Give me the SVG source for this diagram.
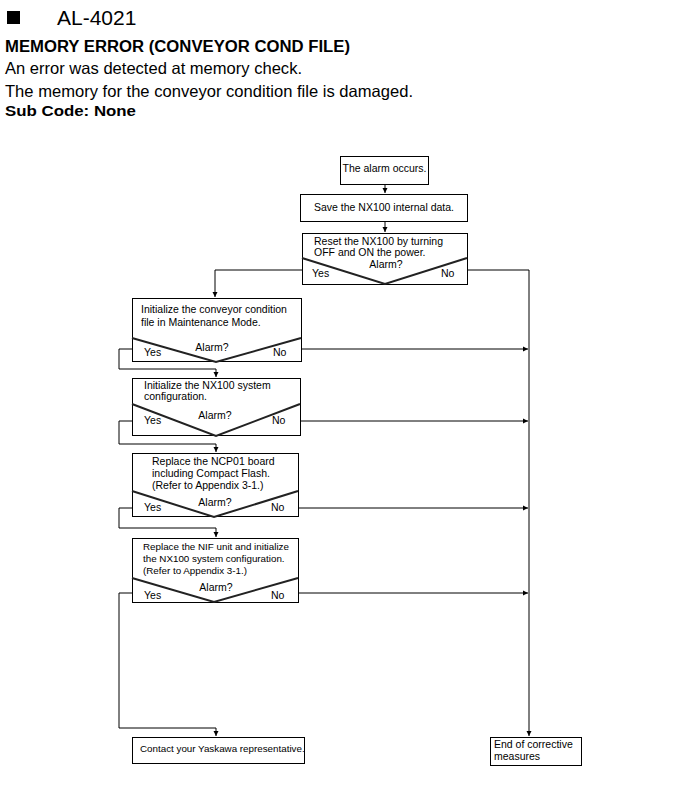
<svg xmlns="http://www.w3.org/2000/svg" width="679" height="796" viewBox="0 0 679 796">
<defs>
<style>
.t{font-family:"Liberation Sans",Arial,sans-serif;fill:#000}
.f{font-size:10.5px}
.box{fill:#fff;stroke:#000;stroke-width:1}
.v{fill:none;stroke:#222;stroke-width:2}
.c{fill:none;stroke:#000;stroke-width:1}
</style>
<marker id="a" markerWidth="6" markerHeight="6" refX="5" refY="3" orient="auto" markerUnits="userSpaceOnUse">
<path d="M0,0.5 L5,3 L0,5.5 Z" fill="#000"/>
</marker>
</defs>
<rect width="679" height="796" fill="#fff"/>
<g id="header">
<rect x="7" y="11" width="13" height="13" fill="#000"/>
<text class="t" x="57" y="25" font-size="21">AL-4021</text>
<text class="t" x="5" y="52" font-size="16" font-weight="bold" textLength="345" lengthAdjust="spacingAndGlyphs">MEMORY ERROR (CONVEYOR COND FILE)</text>
<text class="t" x="5" y="74" font-size="16.5" textLength="297" lengthAdjust="spacingAndGlyphs">An error was detected at memory check.</text>
<text class="t" x="5" y="97" font-size="16.5" textLength="408" lengthAdjust="spacingAndGlyphs">The memory for the conveyor condition file is damaged.</text>
<text class="t" x="5" y="116" font-size="14.5" font-weight="bold" textLength="131" lengthAdjust="spacingAndGlyphs">Sub Code: None</text>
</g>
<g id="connectors">
<path class="c" d="M385,184 V193" marker-end="url(#a)"/>
<path class="c" d="M385,221 V232" marker-end="url(#a)"/>
<path class="c" d="M302,270 H215 V297" marker-end="url(#a)"/>
<path class="c" d="M467,270 H529 V736" marker-end="url(#a)"/>
<path class="c" d="M132,349 H119 V369 H216 V377" marker-end="url(#a)"/>
<path class="c" d="M301,349 H528" marker-end="url(#a)"/>
<path class="c" d="M132,421 H119 V444 H216 V452" marker-end="url(#a)"/>
<path class="c" d="M300,421 H528" marker-end="url(#a)"/>
<path class="c" d="M132,508 H119 V528 H216 V537" marker-end="url(#a)"/>
<path class="c" d="M298,508 H528" marker-end="url(#a)"/>
<path class="c" d="M132,593 H119 V728 H216 V736" marker-end="url(#a)"/>
<path class="c" d="M298,593 H528" marker-end="url(#a)"/>
</g>
<g id="n1">
<rect class="box" x="340.5" y="156.5" width="88" height="28"/>
<text class="t f" x="384.5" y="172" text-anchor="middle">The alarm occurs.</text>
</g>
<g id="n2">
<rect class="box" x="300.5" y="194.5" width="167" height="27"/>
<text class="t f" x="384" y="211" text-anchor="middle">Save the NX100 internal data.</text>
</g>
<g id="n3">
<rect class="box" x="302.5" y="233.5" width="165" height="51"/>
<path class="v" d="M302,258 L385,284 L467,258"/>
<text class="t f" x="314" y="245">Reset the NX100 by turning</text>
<text class="t f" x="314" y="256">OFF and ON the power.</text>
<text class="t f" x="386" y="268" text-anchor="middle">Alarm?</text>
<text class="t f" x="312" y="277">Yes</text>
<text class="t f" x="441" y="277">No</text>
</g>
<g id="n4">
<rect class="box" x="132.5" y="298.5" width="169" height="63"/>
<path class="v" d="M132,338 L216,362 L301,338"/>
<text class="t f" x="141" y="313">Initialize the conveyor condition</text>
<text class="t f" x="141" y="326">file in Maintenance Mode.</text>
<text class="t f" x="212" y="351" text-anchor="middle">Alarm?</text>
<text class="t f" x="144" y="356">Yes</text>
<text class="t f" x="273" y="356">No</text>
</g>
<g id="n5">
<rect class="box" x="132.5" y="378.5" width="168" height="57"/>
<path class="v" d="M132,404 L216,436 L300,404"/>
<text class="t f" x="144" y="389">Initialize the NX100 system</text>
<text class="t f" x="144" y="400">configuration.</text>
<text class="t f" x="215" y="419" text-anchor="middle">Alarm?</text>
<text class="t f" x="144" y="424">Yes</text>
<text class="t f" x="272" y="424">No</text>
</g>
<g id="n6">
<rect class="box" x="132.5" y="453.5" width="166" height="63"/>
<path class="v" d="M132,491 L214,517 L298,491"/>
<text class="t f" x="152" y="465">Replace the NCP01 board</text>
<text class="t f" x="152" y="477">including Compact Flash.</text>
<text class="t f" x="152" y="489">(Refer to Appendix 3-1.)</text>
<text class="t f" x="215" y="506" text-anchor="middle">Alarm?</text>
<text class="t f" x="144" y="511">Yes</text>
<text class="t f" x="271" y="511">No</text>
</g>
<g id="n7">
<rect class="box" x="132.5" y="538.5" width="166" height="64"/>
<path class="v" d="M132,578 L214,602 L298,578"/>
<text class="t" font-size="9.8" x="143" y="550">Replace the NIF unit and initialize</text>
<text class="t" font-size="9.8" x="143" y="562">the NX100 system configuration.</text>
<text class="t" font-size="9.8" x="143" y="574">(Refer to Appendix 3-1.)</text>
<text class="t f" x="216" y="591" text-anchor="middle">Alarm?</text>
<text class="t f" x="144" y="599">Yes</text>
<text class="t f" x="271" y="599">No</text>
</g>
<g id="n8">
<rect class="box" x="132.5" y="737.5" width="172" height="26"/>
<text class="t" font-size="9.8" x="140" y="752">Contact your Yaskawa representative.</text>
</g>
<g id="n9">
<rect class="box" x="490.5" y="737.5" width="91" height="28"/>
<text class="t f" x="494" y="748">End of corrective</text>
<text class="t f" x="494" y="760">measures</text>
</g>
</svg>
